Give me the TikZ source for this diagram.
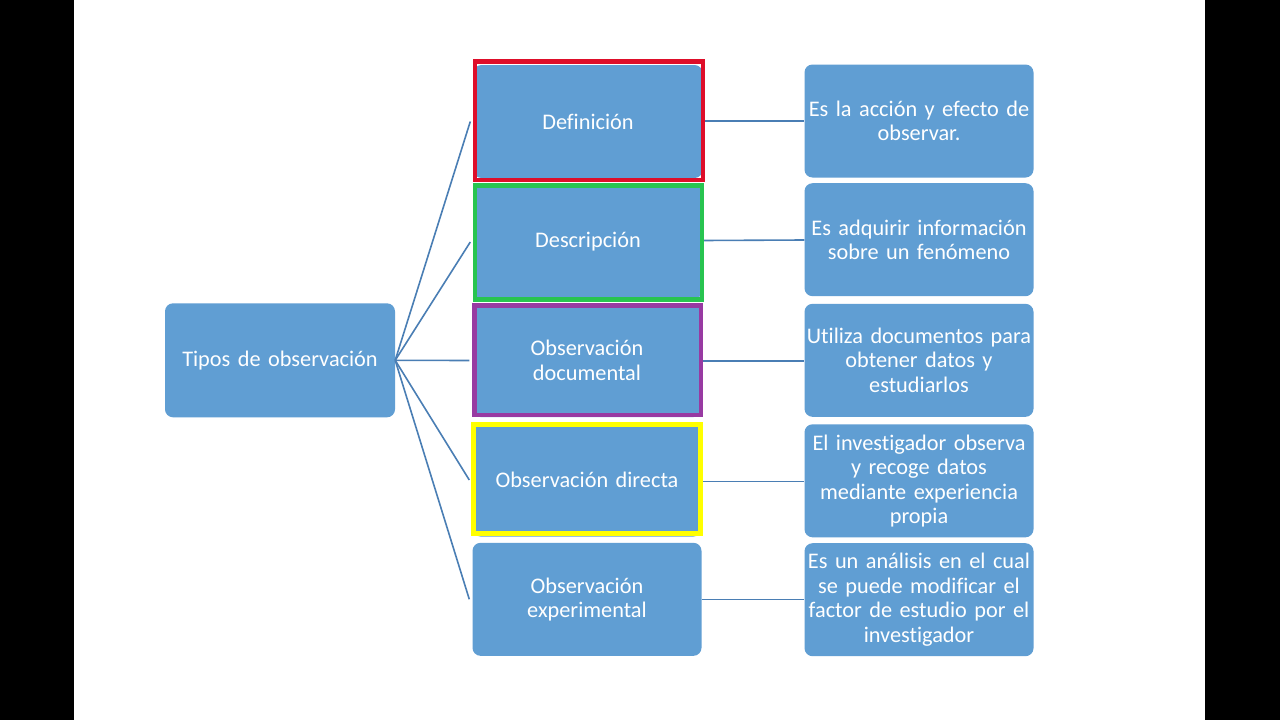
\documentclass[tikz,border=0pt]{standalone}
\usepackage{fontspec}
\setmainfont{Carlito}[Ligatures={NoCommon}, WordSpace=0.8]
\definecolor{boxblue}{RGB}{96,158,211}
\definecolor{linkblue}{RGB}{74,126,180}
\definecolor{fred}{RGB}{222,14,42}
\definecolor{fgreen}{RGB}{40,196,80}
\definecolor{fpurple}{RGB}{152,58,162}
\definecolor{fyellow}{RGB}{255,255,0}
\begin{document}
\begin{tikzpicture}[x=1pt,y=-1pt,
  blk/.style={fill=boxblue, rounded corners=8pt, text=white, align=center,
    minimum width=229pt, minimum height=113pt, inner sep=0pt, text width=228pt,
    font=\fontsize{22.3}{24.5}\selectfont},
  link/.style={draw=linkblue, line width=1.6pt},
  frameline/.style={line width=4.5pt}]
\fill[black] (0,0) rectangle (1280,720);
\fill[white] (74,0) rectangle (1205,720);
\useasboundingbox (0,0) rectangle (1280,720);

% root
\node[blk, minimum width=230pt, minimum height=114pt] (root) at (280,360.3) {Tipos de observación};

% middle column
\node[blk] (def)  at (588,121.5) {Definición};
\node[blk] (desc) at (588,242)   {Descripción};
\node[blk] (doc)  at (587,360.5) {Observación\\documental};
\node[blk] (dir)  at (587,480)   {Observación directa};
\node[blk] (exp)  at (587,599.3) {Observación\\experimental};

% right column
\node[blk] (r1) at (919,121)   {Es la acción y efecto de\\observar.};
\node[blk] (r2) at (919,239.7) {Es adquirir información\\sobre un fenómeno};
\node[blk] (r3) at (919,360.3) {Utiliza documentos para\\obtener datos y\\estudiarlos};
\node[blk] (r4) at (919,480.8) {El investigador observa\\y recoge datos\\mediante experiencia\\propia};
\node[blk] (r5) at (919,599.7) {Es un análisis en el cual\\se puede modificar el\\factor de estudio por el\\investigador};

% connectors root -> middle
\foreach \m in {def,desc,doc,dir,exp}
  \draw[link] (root.east) -- ([xshift=-3pt]\m.west);

% connectors middle -> right
\draw[link] (def.east |- 0,121)   -- (r1.west |- 0,121);
\draw[link] (desc.east |- 0,240.5) -- (r2.west |- 0,240);
\draw[link] (doc.east |- 0,360.7) -- (r3.west |- 0,360.7);
\draw[link] (dir.east |- 0,481.5) -- (r4.west |- 0,481.5);
\draw[link] (exp.east |- 0,599.5) -- (r5.west |- 0,599.5);

% highlight frames
\draw[frameline, fred]    (475,61.5)  rectangle (703,180);
\draw[frameline, fgreen]  (475,185.7) rectangle (702,299.5);
\draw[frameline, fpurple] (474.7,305.5) rectangle (701,414.8);
\draw[frameline, fyellow, line width=5pt] (473.7,424.5) rectangle (700.7,533.5);
\end{tikzpicture}
\end{document}
